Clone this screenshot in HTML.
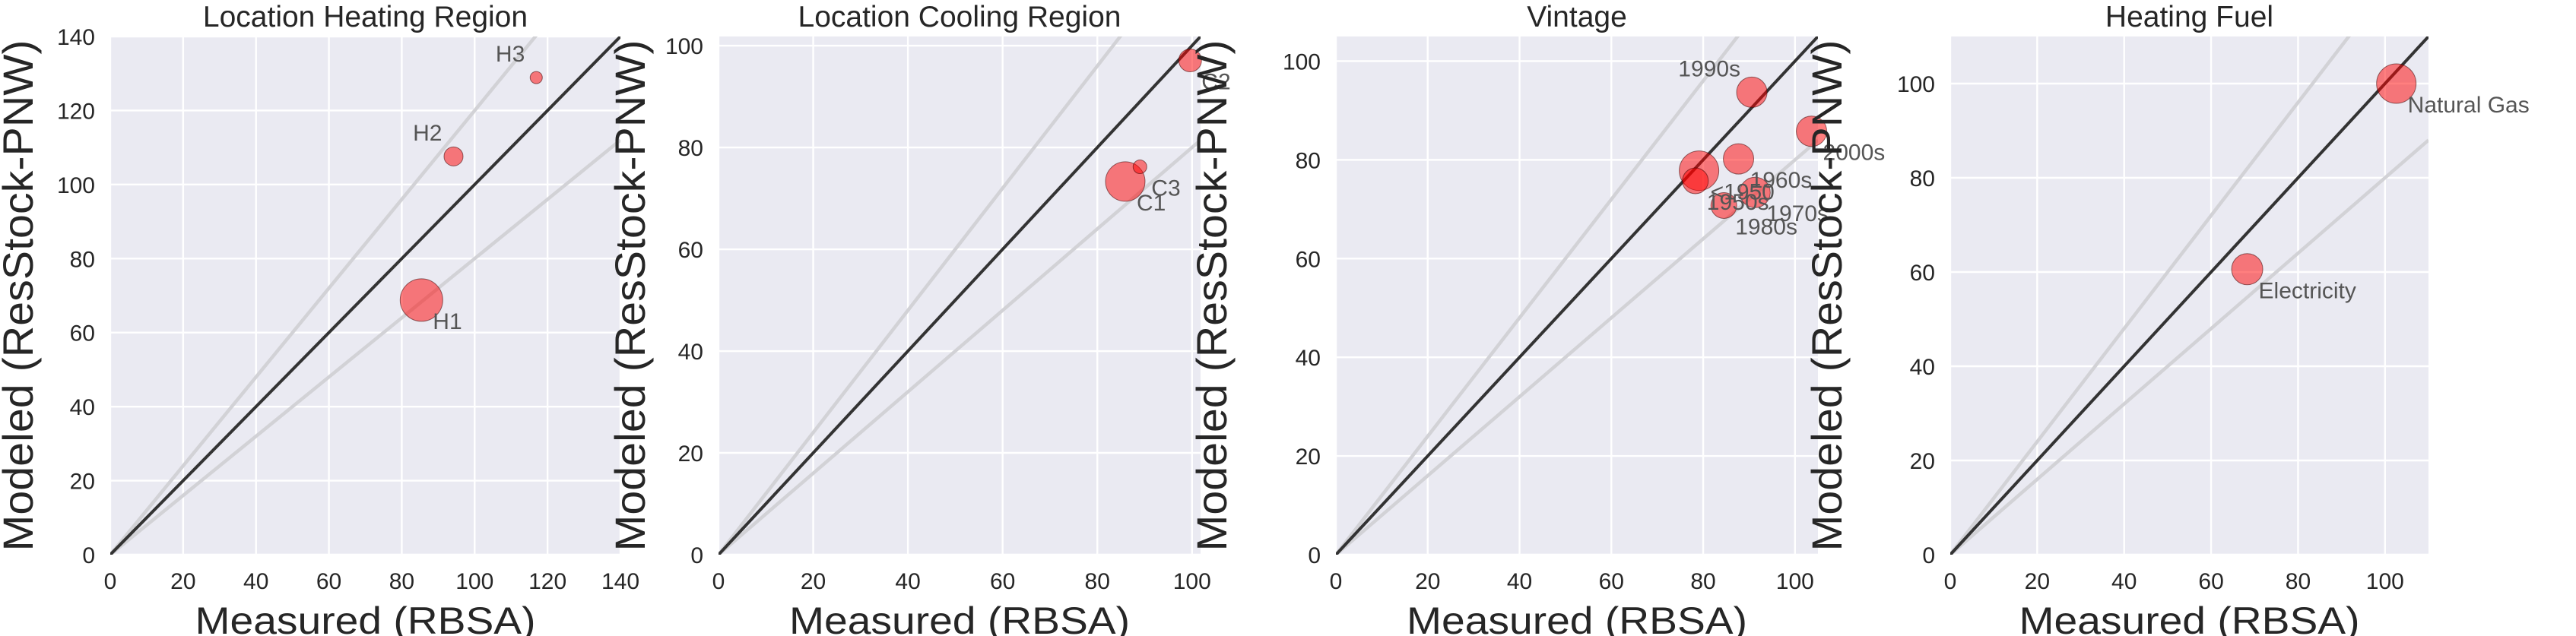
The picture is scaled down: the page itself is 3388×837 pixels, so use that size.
<!DOCTYPE html>
<html><head><meta charset="utf-8"><style>
html,body{margin:0;padding:0;background:#fff;}
svg{display:block;font-family:"Liberation Sans",Arial,sans-serif;}
</style></head><body>
<svg id="chart" width="3388" height="837" viewBox="0 0 3388 837" xmlns="http://www.w3.org/2000/svg"></svg>
<script>
// ---- data ----
const p1Labels = ["H1","H2","H3"];
const p1Measured = [85.4, 94.2, 116.9];
const p1Modeled = [68.8, 107.6, 128.9];
const p1Radius = [28, 12.5, 8];
const p1LabelPos = ["br","tl","tl"];

const p2Labels = ["C1","C2","C3"];
const p2Measured = [85.9, 99.6, 89.0];
const p2Modeled = [73.3, 97.1, 76.2];
const p2Radius = [26, 15, 9];
const p2LabelPos = ["br","br","br"];

const p3Labels = ["<1950","1950s","1960s","1970s","1980s","1990s","2000s"];
const p3Measured = [79.1, 78.3, 87.7, 91.3, 84.5, 90.6, 103.6];
const p3Modeled = [77.8, 75.75, 80.2, 73.4, 70.75, 93.7, 85.8];
const p3Radius = [26, 17, 20, 20, 17, 20, 20];
const p3LabelPos = ["br","br","br","br","br","tl","br"];

const p4Labels = ["Electricity","Natural Gas"];
const p4Measured = [68.3, 102.6];
const p4Modeled = [60.6, 100.0];
const p4Radius = [20.5, 26];
const p4LabelPos = ["br","br"];

const tickValues = [0,20,40,60,80,100,120,140];

// ---- layout ----
const panels = [
  {name:"location-heating-region", title:"Location Heating Region", left:145, right:816, max:140, ylabX:24,
   labels:p1Labels, mx:p1Measured, my:p1Modeled, r:p1Radius, pos:p1LabelPos},
  {name:"location-cooling-region", title:"Location Cooling Region", left:945, right:1579, max:101.8, ylabX:829,
   labels:p2Labels, mx:p2Measured, my:p2Modeled, r:p2Radius, pos:p2LabelPos},
  {name:"vintage", title:"Vintage", left:1757, right:2391, max:105, ylabX:1594,
   labels:p3Labels, mx:p3Measured, my:p3Modeled, r:p3Radius, pos:p3LabelPos},
  {name:"heating-fuel", title:"Heating Fuel", left:2565, right:3194, max:110, ylabX:2403,
   labels:p4Labels, mx:p4Measured, my:p4Modeled, r:p4Radius, pos:p4LabelPos}
];
const TOP = 48, BOTTOM = 730;
const NS = "http://www.w3.org/2000/svg";
const svg = document.getElementById("chart");
function mk(tag, attrs, parent){
  const e = document.createElementNS(NS, tag);
  for (const k in attrs) e.setAttribute(k, attrs[k]);
  (parent||svg).appendChild(e);
  return e;
}
const defs = mk("defs", {});

panels.forEach((p, pi) => {
  const g = mk("g", {});
  
  
  const xs = v => p.left + (p.right - p.left) * v / p.max;
  const ys = v => BOTTOM - (BOTTOM - TOP) * v / p.max;

  const cp = mk("clipPath", {id:"clip"+pi}, defs);
  mk("rect", {x:p.left, y:TOP, width:p.right-p.left, height:BOTTOM-TOP}, cp);

  const bg = mk("rect", {x:p.left, y:TOP, width:p.right-p.left, height:BOTTOM-TOP, fill:"#eaeaf2"}, g);
  
  

  const ticks = tickValues.filter(t => t <= p.max + 0.01);
  ticks.forEach(t => {
    const gx = mk("line", {x1:xs(t), x2:xs(t), y1:TOP, y2:BOTTOM, stroke:"#fff", "stroke-width":2.4}, g);
    
    
    const gy = mk("line", {x1:p.left, x2:p.right, y1:ys(t), y2:ys(t), stroke:"#fff", "stroke-width":2.4}, g);
    
    
    const tx = mk("text", {x:xs(t), y:775, "text-anchor":"middle", "font-size":30, fill:"#262626"}, g);
    tx.textContent = t;
    
    
    const ty = mk("text", {x:p.left-20, y:ys(t)+11, "text-anchor":"end", "font-size":30, fill:"#262626"}, g);
    ty.textContent = t;
    
    
  });

  const cg = mk("g", {"clip-path":"url(#clip"+pi+")"}, g);
  [1.2, 0.8].forEach(s => {
    const l = mk("line", {x1:xs(0), y1:ys(0), x2:xs(p.max), y2:ys(p.max*s), stroke:"#d2d2d6", "stroke-width":4.5}, cg);
    
    
  });
  const one = mk("line", {x1:xs(0), y1:ys(0), x2:xs(p.max), y2:ys(p.max), stroke:"#333", "stroke-width":4}, cg);
  
  

  p.mx.forEach((v, i) => {
    const c = mk("circle", {cx:xs(v), cy:ys(p.my[i]), r:p.r[i], fill:"rgba(255,0,0,0.5)", stroke:"rgba(60,0,0,0.55)", "stroke-width":1}, g);
    
    
  });
  p.mx.forEach((v, i) => {
    const br = p.pos[i] === "br";
    const t = mk("text", {x:xs(v) + (br?15:-15), y:ys(p.my[i]) + (br?38:-21), "text-anchor":br?"start":"end", "font-size":30, fill:"#555"}, g);
    t.textContent = p.labels[i];
    
    
  });

  const cx = (p.left + p.right) / 2;
  const title = mk("text", {x:cx, y:35, "text-anchor":"middle", "font-size":39, fill:"#262626"}, g);
  title.textContent = p.title;
  
  

  const xl = mk("text", {x:cx, y:834, "text-anchor":"middle", "font-size":50, fill:"#262626", textLength:448, lengthAdjust:"spacingAndGlyphs"}, g);
  xl.textContent = "Measured (RBSA)";
  
  

  const cy = (TOP + BOTTOM) / 2;
  const yl = mk("text", {x:0, y:0, "text-anchor":"middle", "font-size":56, fill:"#262626", textLength:673, lengthAdjust:"spacingAndGlyphs",
    transform:"translate(" + (p.ylabX + 19) + "," + cy + ") rotate(-90)"}, g);
  yl.textContent = "Modeled (ResStock-PNW)";
  
  
});
</script>
</body></html>
